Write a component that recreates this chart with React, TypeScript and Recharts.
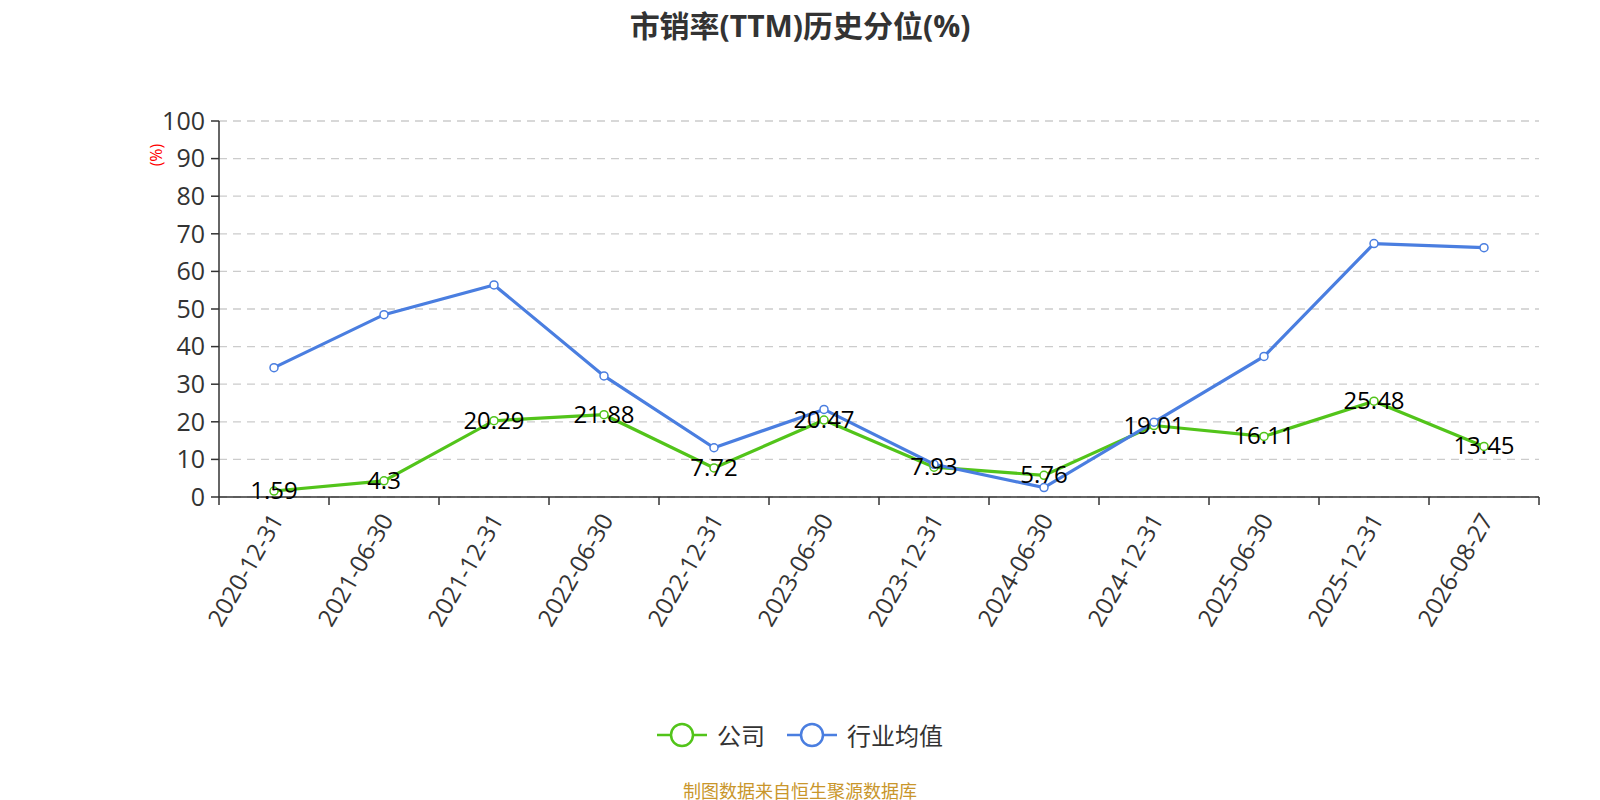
import React from "react";
import {
  LineChart,
  Line,
  XAxis,
  YAxis,
  CartesianGrid,
  Legend,
  LabelList,
} from "recharts";

const dates = [
  "2020-12-31",
  "2021-06-30",
  "2021-12-31",
  "2022-06-30",
  "2022-12-31",
  "2023-06-30",
  "2023-12-31",
  "2024-06-30",
  "2024-12-31",
  "2025-06-30",
  "2025-12-31",
  "2026-08-27",
];
const company = [1.59, 4.3, 20.29, 21.88, 7.72, 20.47, 7.93, 5.76, 19.01, 16.11, 25.48, 13.45];
const industry = [34.4, 48.5, 56.4, 32.2, 13.1, 23.3, 8.7, 2.5, 19.9, 37.4, 67.4, 66.3];
const yTicks = [0, 10, 20, 30, 40, 50, 60, 70, 80, 90, 100];

const data = dates.map((d, i) => ({ date: d, company: company[i], industry: industry[i] }));

const W = 1600;
const H = 800;
const margin = { top: 121, right: 61, left: 139, bottom: 153 };
const yAxisWidth = 80;
const bandWidth = (W - margin.left - yAxisWidth - margin.right) / dates.length;

const GREEN = "#52c41a";
const BLUE = "#4a7ee0";
const FONT = "'Open Sans', 'Noto Sans CJK SC', sans-serif";

function XTick(props: any) {
  const { x, y, payload, index } = props;
  const last = index === dates.length - 1;
  const tx = x + 2;
  const ty = y + 18;
  return (
    <g>
      <line x1={x - bandWidth / 2} y1={y} x2={x - bandWidth / 2} y2={y + 8} stroke="#333" strokeWidth={1.5} />
      {last && (
        <line x1={x + bandWidth / 2} y1={y} x2={x + bandWidth / 2} y2={y + 8} stroke="#333" strokeWidth={1.5} />
      )}
      <text
        x={tx}
        y={ty}
        textAnchor="end"
        dominantBaseline="central"
        transform={`rotate(-60, ${tx}, ${ty})`}
        fontSize={24}
        fill="#333"
      >
        {payload.value}
      </text>
    </g>
  );
}

function PointLabel(props: any) {
  const { x, y, value } = props;
  return (
    <text x={x} y={y + 8} textAnchor="middle" fontSize={24} fill="#000">
      {value}
    </text>
  );
}

function UnitLabel(props: any) {
  const { viewBox } = props;
  const cx = viewBox.x + 17;
  const cy = viewBox.y + 34;
  return (
    <text
      x={cx}
      y={cy}
      textAnchor="middle"
      dominantBaseline="central"
      transform={`rotate(-90, ${cx}, ${cy})`}
      fontSize={16}
      fill="#ff0000"
    >
      (%)
    </text>
  );
}

function LegendContent() {
  const items = [
    { name: "公司", color: GREEN },
    { name: "行业均值", color: BLUE },
  ];
  return (
    <div style={{ display: "flex", justifyContent: "center", alignItems: "center", gap: 22 }}>
      {items.map((it) => (
        <div key={it.name} style={{ display: "flex", alignItems: "center" }}>
          <svg width={50} height={26}>
            <line x1={0} y1={13} x2={50} y2={13} stroke={it.color} strokeWidth={2.5} />
            <circle cx={25} cy={13} r={11} fill="#fff" stroke={it.color} strokeWidth={2.5} />
          </svg>
          <span style={{ fontSize: 24, color: "#333", marginLeft: 10 }}>{it.name}</span>
        </div>
      ))}
    </div>
  );
}

export default function App() {
  return (
    <div
      style={{
        position: "absolute",
        left: 0,
        top: 0,
        width: W,
        height: H,
        background: "#fff",
        fontFamily: FONT,
      }}
    >
      <div
        style={{
          position: "absolute",
          top: 2,
          width: W,
          textAlign: "center",
          fontSize: 30,
          fontWeight: "bold",
          color: "#333",
        }}
      >
        市销率(TTM)历史分位(%)
      </div>
      <LineChart width={W} height={H} data={data} margin={margin} style={{ fontFamily: FONT }}>
        <CartesianGrid vertical={false} stroke="#ccc" strokeDasharray="8 6" strokeWidth={1.3} />
        <XAxis
          dataKey="date"
          interval={0}
          height={150}
          padding={{ left: bandWidth / 2, right: bandWidth / 2 }}
          tickLine={false}
          tickSize={0}
          tickMargin={0}
          axisLine={{ stroke: "#333", strokeWidth: 1.5 }}
          tick={<XTick />}
        />
        <YAxis
          width={yAxisWidth}
          domain={[0, 100]}
          ticks={yTicks}
          interval={0}
          tickSize={8}
          tickMargin={6}
          axisLine={{ stroke: "#333", strokeWidth: 1.5 }}
          tickLine={{ stroke: "#333", strokeWidth: 1.5 }}
          tick={{ fontSize: 25, fill: "#333" }}
          label={<UnitLabel />}
        />
        <Legend
          layout="vertical"
          align="center"
          verticalAlign="middle"
          content={<LegendContent />}
          wrapperStyle={{ top: 717, left: 0, width: W }}
        />
        <Line
          type="linear"
          dataKey="company"
          name="公司"
          stroke={GREEN}
          strokeWidth={3.2}
          dot={{ r: 4, fill: "#fff", stroke: GREEN, strokeWidth: 1.5 }}
          isAnimationActive={false}
        >
          <LabelList dataKey="company" content={<PointLabel />} />
        </Line>
        <Line
          type="linear"
          dataKey="industry"
          name="行业均值"
          stroke={BLUE}
          strokeWidth={3.2}
          dot={{ r: 4, fill: "#fff", stroke: BLUE, strokeWidth: 1.5 }}
          isAnimationActive={false}
        />
      </LineChart>
      <div
        style={{
          position: "absolute",
          top: 777,
          width: W,
          textAlign: "center",
          fontSize: 18,
          color: "#c9962b",
        }}
      >
        制图数据来自恒生聚源数据库
      </div>
    </div>
  );
}
